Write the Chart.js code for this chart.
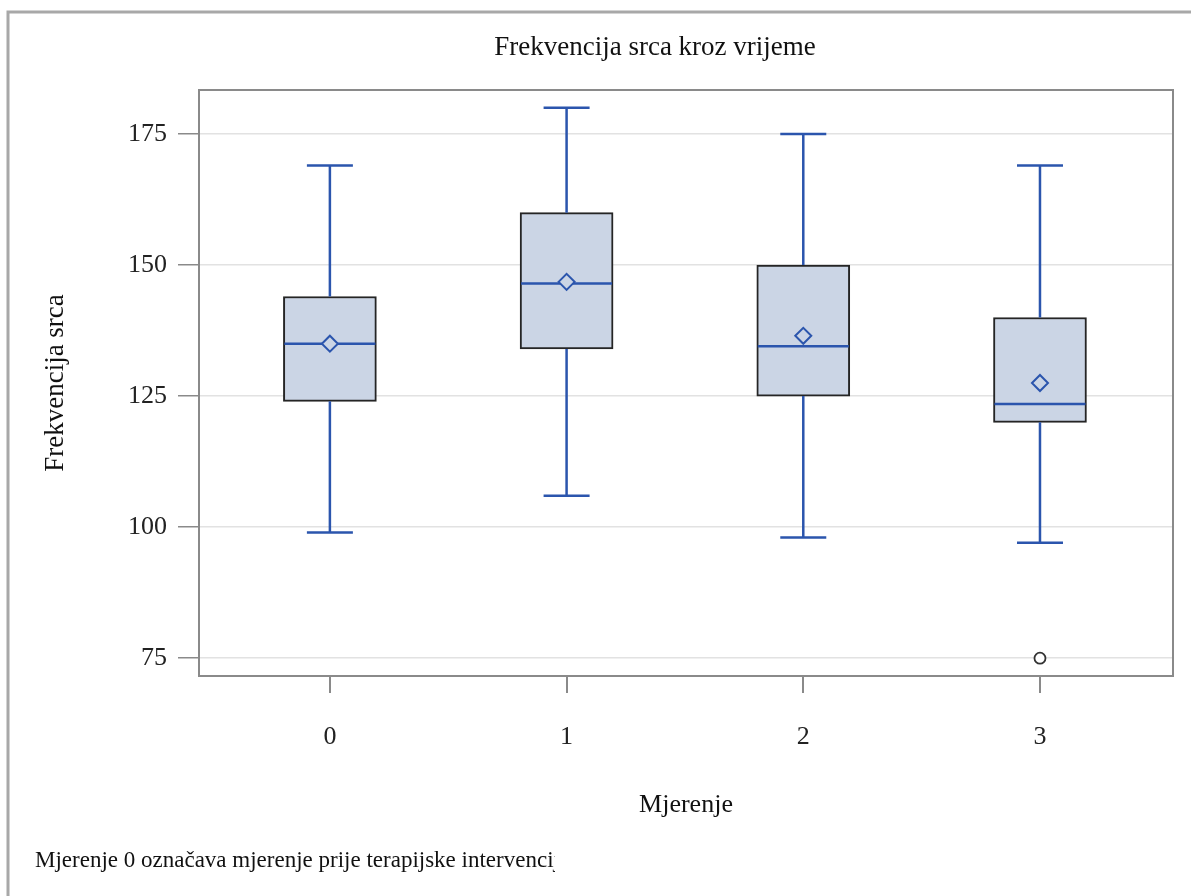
<!DOCTYPE html>
<html>
<head>
<meta charset="utf-8">
<script src="https://cdn.jsdelivr.net/npm/chart.js@4"></script>
<style>
  html, body { margin: 0; padding: 0; background: #fff; }
  #wrap { width: 1191px; height: 896px; }
</style>
</head>
<body>
<div id="wrap"><canvas id="myChart" width="1191" height="896"></canvas></div>
<script>
// data
const categories = [0, 1, 2, 3];
const whiskerLow = [99, 106, 98, 97];
const q1 = [124, 134, 125, 120];
const median = [135, 146.5, 134.5, 123.5];
const q3 = [144, 160, 150, 140];
const whiskerHigh = [169, 180, 175, 169];
const means = [135, 146.8, 136.5, 127.5];
const outliers = [{ x: 3, y: 75 }];
const yTicks = [75, 100, 125, 150, 175];

const serif = '"Liberation Serif", "DejaVu Serif", serif';
const blue = '#2b55ad';
const boxFill = '#cbd5e5';

const boxPlot = {
  id: 'boxPlot',
  afterDatasetDraw(chart, args) {
    if (args.index !== 0) return;
    const ctx = chart.ctx;
    const x = chart.scales.x, y = chart.scales.y;
    const bars = chart.getDatasetMeta(0).data;
    ctx.save();
    ctx.strokeStyle = blue;
    ctx.lineWidth = 2.5;
    categories.forEach((c, i) => {
      const cx = x.getPixelForValue(c);
      const half = bars[i].width / 2;
      const cap = 23;
      ctx.beginPath();
      // upper whisker
      ctx.moveTo(cx, y.getPixelForValue(q3[i]));
      ctx.lineTo(cx, y.getPixelForValue(whiskerHigh[i]));
      ctx.moveTo(cx - cap, y.getPixelForValue(whiskerHigh[i]));
      ctx.lineTo(cx + cap, y.getPixelForValue(whiskerHigh[i]));
      // lower whisker
      ctx.moveTo(cx, y.getPixelForValue(q1[i]));
      ctx.lineTo(cx, y.getPixelForValue(whiskerLow[i]));
      ctx.moveTo(cx - cap, y.getPixelForValue(whiskerLow[i]));
      ctx.lineTo(cx + cap, y.getPixelForValue(whiskerLow[i]));
      // median
      ctx.moveTo(cx - half + 1, y.getPixelForValue(median[i]));
      ctx.lineTo(cx + half - 1, y.getPixelForValue(median[i]));
      ctx.stroke();
    });
    ctx.restore();
  },
  afterDraw(chart) {
    const ctx = chart.ctx;
    const a = chart.chartArea;
    ctx.save();
    // plot frame
    ctx.strokeStyle = '#8a8a8a';
    ctx.lineWidth = 2;
    ctx.strokeRect(a.left, a.top, a.right - a.left, a.bottom - a.top);
    // outer frame (top and left only)
    ctx.strokeStyle = '#a8a8a8';
    ctx.lineWidth = 3;
    ctx.beginPath();
    ctx.moveTo(8, 896);
    ctx.lineTo(8, 12);
    ctx.lineTo(1191, 12);
    ctx.stroke();
    // title
    ctx.fillStyle = '#111';
    ctx.font = '27px ' + serif;
    ctx.textAlign = 'center';
    ctx.textBaseline = 'middle';
    ctx.fillText('Frekvencija srca kroz vrijeme', 655, 48);
    // footnote, clipped like the original
    ctx.beginPath();
    ctx.rect(20, 840, 535, 40);
    ctx.clip();
    ctx.font = '23px ' + serif;
    ctx.textAlign = 'left';
    ctx.fillText('Mjerenje 0 označava mjerenje prije terapijske intervencije', 35, 861);
    ctx.restore();
  }
};

new Chart(document.getElementById('myChart'), {
  type: 'bar',
  data: {
    datasets: [
      {
        type: 'bar',
        order: 2,
        data: categories.map((c, i) => ({ x: c, y: [q1[i], q3[i]] })),
        backgroundColor: boxFill,
        borderColor: '#252525',
        borderWidth: 2,
        borderSkipped: false,
        barThickness: 93
      },
      {
        type: 'scatter',
        order: 1,
        data: categories.map((c, i) => ({ x: c, y: means[i] })),
        pointStyle: 'rectRot',
        pointRadius: 8,
        pointBorderColor: blue,
        pointBorderWidth: 2,
        pointBackgroundColor: boxFill
      },
      {
        type: 'scatter',
        order: 0,
        data: outliers,
        pointStyle: 'circle',
        pointRadius: 5.5,
        pointBorderColor: '#333',
        pointBorderWidth: 1.8,
        pointBackgroundColor: '#fff'
      }
    ]
  },
  options: {
    responsive: false,
    animation: false,
    events: [],
    layout: { padding: { top: 90, right: 18, left: 0, bottom: 0 } },
    plugins: {
      legend: { display: false },
      tooltip: { enabled: false }
    },
    scales: {
      x: {
        type: 'linear',
        offset: false,
        min: -0.553,
        max: 3.562,
        afterBuildTicks: (s) => { s.ticks = categories.map(v => ({ value: v })); },
        afterFit: (s) => { s.height = 220; },
        grid: { drawOnChartArea: false, tickLength: 17, tickColor: '#8a8a8a', lineWidth: 2, offset: false },
        border: { display: false },
        ticks: { font: { family: serif, size: 26 }, color: '#222', padding: 29 },
        title: { display: true, text: 'Mjerenje', font: { family: serif, size: 26 }, color: '#111', padding: { bottom: 75 } }
      },
      y: {
        min: 71.6,
        max: 183.4,
        afterBuildTicks: (s) => { s.ticks = yTicks.map(v => ({ value: v })); },
        afterFit: (s) => { s.width = 199; },
        grid: { color: '#e2e2e2', lineWidth: 1.5, tickLength: 21, tickColor: '#8a8a8a' },
        border: { display: false },
        ticks: { font: { family: serif, size: 26 }, color: '#222', padding: 11 },
        title: { display: true, text: 'Frekvencija srca', font: { family: serif, size: 27 }, color: '#111', padding: { top: 40 } }
      }
    }
  },
  plugins: [boxPlot]
});
</script>
</body>
</html>
